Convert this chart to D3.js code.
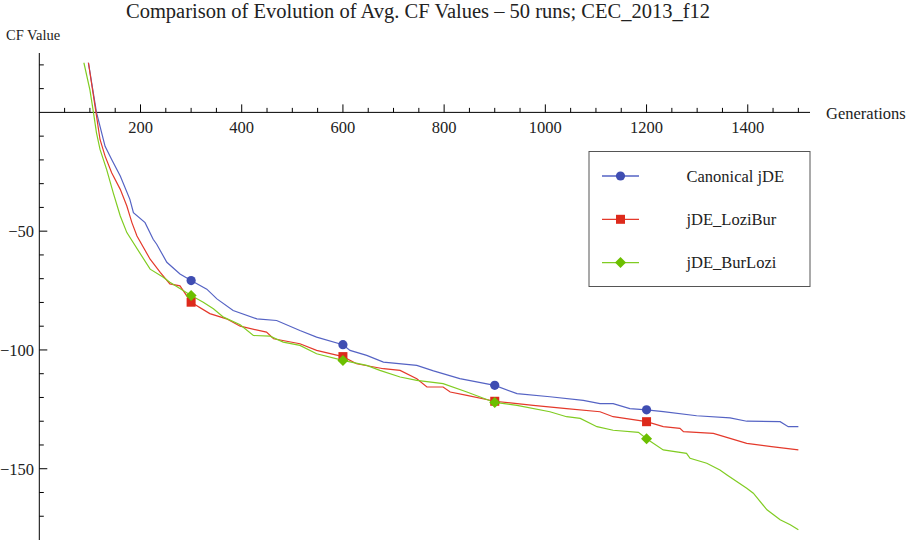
<!DOCTYPE html>
<html>
<head>
<meta charset="utf-8">
<script src="https://cdn.jsdelivr.net/npm/d3@7"></script>
<style>
  body { margin: 0; background: #fff; }
  text { font-family: "Liberation Serif", "Times New Roman", serif; fill: #222; }
</style>
</head>
<body>
<svg id="chart" width="914" height="545"></svg>
<script>
// generations / avg CF value
const blueGen = [97, 113, 130, 143, 160, 179, 186, 209, 225, 232, 252, 278, 300, 331, 351, 383, 430, 469, 515, 548, 600, 614, 647, 680, 746, 779, 831, 900, 944, 1009, 1075, 1108, 1134, 1167, 1200, 1233, 1299, 1365, 1398, 1464, 1480, 1500];
const blueVal = [21, 0, -14.3, -19.8, -26.8, -36.6, -42.2, -46.4, -53.4, -55.5, -63.1, -68, -70.8, -74.4, -78.5, -83.4, -86.9, -87.6, -91.8, -94.6, -97.8, -100.2, -102.3, -105.1, -106.5, -108.8, -112.1, -114.9, -118.4, -119.7, -121.2, -122.6, -122.6, -124.7, -125.2, -126, -127.7, -128.6, -130, -130.2, -132.3, -132.3];

const redGen = [97, 112, 120, 130, 143, 160, 173, 183, 193, 219, 239, 258, 278, 300, 337, 370, 397, 449, 463, 515, 548, 600, 627, 680, 713, 746, 766, 798, 812, 845, 900, 976, 1042, 1108, 1134, 1200, 1233, 1266, 1273, 1332, 1365, 1398, 1447, 1500];
const redVal = [21, 0, -11.4, -18.4, -25.4, -32.4, -39.4, -46.4, -52, -61.8, -67.3, -72.2, -73, -79.9, -84.7, -86.9, -90, -92.5, -95.3, -97.4, -100.2, -102.8, -105.8, -107.9, -108.6, -112.1, -115.6, -115.6, -117.7, -119.1, -121.6, -123.3, -124.7, -126, -128.1, -130.2, -132.3, -133, -134.4, -135.1, -137.2, -139.3, -140.7, -142.1];

const greenGen = [88, 100, 107, 113, 120, 133, 146, 160, 173, 219, 245, 258, 285, 300, 324, 344, 364, 397, 423, 456, 482, 515, 548, 600, 647, 673, 713, 746, 798, 845, 900, 944, 1009, 1042, 1069, 1102, 1134, 1184, 1200, 1233, 1279, 1286, 1319, 1345, 1359, 1398, 1411, 1438, 1464, 1484, 1500];
const greenVal = [21, 9.5, 0, -8.6, -15.6, -24, -33.8, -43.6, -50.6, -66, -69.4, -71.5, -75.1, -77.1, -79.9, -82.7, -86.2, -89.4, -93.9, -94.2, -96.7, -98.1, -101.6, -104.4, -106.5, -108.6, -111.4, -112.8, -114.2, -117.7, -122.1, -123.3, -126, -128.1, -128.8, -132.3, -133.8, -134.7, -137.4, -142.1, -143.5, -145.6, -147.7, -150.5, -152.6, -158.2, -160.3, -167.3, -171.5, -173.6, -175.7];

const seriesNames = ["Canonical jDE", "jDE_LoziBur", "jDE_BurLozi"];
const markerGens = [300, 600, 900, 1200];
const xMajorTicks = [200, 400, 600, 800, 1000, 1200, 1400];
const yMajorTicks = [-150, -100, -50];

const series = [
  {name: seriesNames[0], gen: blueGen, val: blueVal, line: "#5563c4", fill: "#3f4db2", shape: "circle"},
  {name: seriesNames[1], gen: redGen, val: redVal, line: "#e4392b", fill: "#dd2a1b", shape: "square"},
  {name: seriesNames[2], gen: greenGen, val: greenVal, line: "#80cc22", fill: "#6cbf00", shape: "diamond"}
];

const svg = d3.select("#chart");
const x = d3.scaleLinear().domain([0, 1523]).range([39.3, 810]);
const y = d3.scaleLinear().domain([-180, 25]).range([540, 53]);

// title + axis names
svg.append("text").attr("x", 418).attr("y", 18).attr("text-anchor", "middle")
  .style("font-size", "20.5px").text("Comparison of Evolution of Avg. CF Values \u2013 50 runs; CEC_2013_f12");
svg.append("text").attr("x", 6).attr("y", 40).style("font-size", "14.5px").text("CF Value");
svg.append("text").attr("x", 826).attr("y", 119).style("font-size", "16.5px").text("Generations");

// axes
const ax = svg.append("g").attr("stroke", "#000").attr("stroke-width", 1);
ax.append("line").attr("x1", 39.3).attr("x2", 810).attr("y1", y(0)).attr("y2", y(0));
ax.append("line").attr("x1", 39.3).attr("x2", 39.3).attr("y1", 53).attr("y2", 540);

d3.range(50, 1501, 50).forEach(g => {
  const major = g % 200 === 0 && g <= 1400;
  ax.append("line").attr("x1", x(g)).attr("x2", x(g))
    .attr("y1", y(0)).attr("y2", y(0) - (major ? 8 : 4.5));
});
d3.range(-170, 21, 10).forEach(v => {
  if (v === 0) return;
  const major = v % 50 === 0;
  ax.append("line").attr("x1", 39.3).attr("x2", 39.3 + (major ? 8 : 4.5))
    .attr("y1", y(v)).attr("y2", y(v));
});

svg.selectAll(".xl").data(xMajorTicks).join("text")
  .attr("x", d => x(d)).attr("y", y(0) + 21).attr("text-anchor", "middle")
  .style("font-size", "16.5px").text(d => d);
svg.selectAll(".yl").data(yMajorTicks).join("text")
  .attr("x", 34).attr("y", d => y(d) + 6).attr("text-anchor", "end")
  .style("font-size", "16.5px").text(d => "\u2212" + Math.abs(d));

// clip lines to the plot range
svg.append("clipPath").attr("id", "clip").append("rect")
  .attr("x", 39.3).attr("y", y(21)).attr("width", 780).attr("height", 540 - y(21));

const lineLin = d3.line().x(d => x(d[0])).y(d => y(d[1]));

function marker(g, s, cx, cy) {
  if (s.shape === "circle") {
    g.append("circle").attr("cx", cx).attr("cy", cy).attr("r", 4.6).attr("fill", s.fill);
  } else if (s.shape === "square") {
    g.append("rect").attr("x", cx - 4.5).attr("y", cy - 4.5).attr("width", 9).attr("height", 9).attr("fill", s.fill);
  } else {
    g.append("path").attr("d", `M${cx - 5.5},${cy}L${cx},${cy - 5.5}L${cx + 5.5},${cy}L${cx},${cy + 5.5}Z`).attr("fill", s.fill);
  }
}

series.forEach(s => {
  const pts = s.gen.map((g, i) => [g, s.val[i]]);
  svg.append("path").datum(pts).attr("clip-path", "url(#clip)")
    .attr("fill", "none").attr("stroke", s.line).attr("stroke-width", 1.2)
    .attr("d", lineLin);
});
series.forEach(s => {
  const mg = svg.append("g");
  markerGens.forEach(m => {
    const i = s.gen.indexOf(m);
    if (i >= 0) marker(mg, s, x(m), y(s.val[i]));
  });
});

// legend
const lg = svg.append("g");
lg.append("rect").attr("x", 589).attr("y", 151.5).attr("width", 221).attr("height", 135)
  .attr("fill", "#fff").attr("stroke", "#555").attr("stroke-width", 1);
series.forEach((s, i) => {
  const ly = 176 + i * 43.3;
  lg.append("line").attr("x1", 602).attr("x2", 639).attr("y1", ly).attr("y2", ly)
    .attr("stroke", s.line).attr("stroke-width", 1.3);
  marker(lg, s, 620.5, ly);
  lg.append("text").attr("x", 686.5).attr("y", ly + 5.5).style("font-size", "16.5px").text(s.name);
});
</script>
</body>
</html>
